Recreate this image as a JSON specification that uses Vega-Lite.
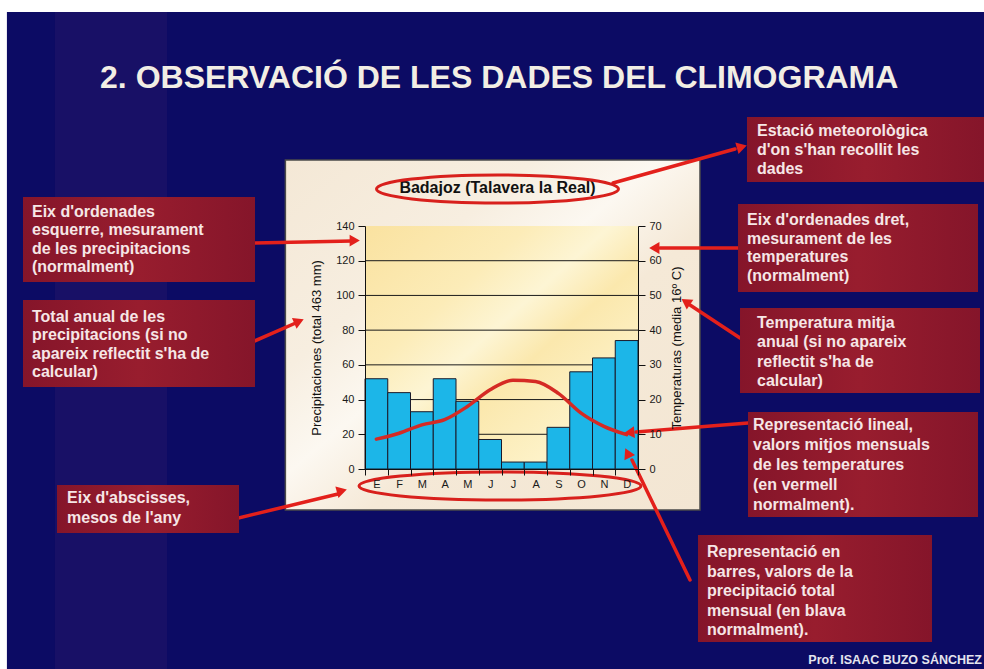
{
  "$schema": "https://vega.github.io/schema/vega-lite/v6.json",
  "width": 273,
  "height": 243,
  "autosize": {"type": "none"},
  "padding": {"left": 365, "top": 226, "right": 346, "bottom": 200},
  "background": "#0c0b64",
  "config": {
    "view": {"stroke": null},
    "font": "Liberation Sans",
    "axis": {
      "domainColor": "#111111",
      "tickColor": "#111111",
      "labelColor": "#1a1a1a",
      "labelFont": "Liberation Sans",
      "labelFontSize": 11,
      "tickSize": 7,
      "grid": false,
      "titleFont": "Liberation Sans",
      "titleFontSize": 13,
      "titleFontWeight": "normal",
      "titleColor": "#111111"
    }
  },
  "datasets": {
    "clima": [
      {"mes": "Ene", "pluja": 52, "temp": 8.6},
      {"mes": "Feb", "pluja": 44, "temp": 10.3},
      {"mes": "Mar", "pluja": 33, "temp": 12.7},
      {"mes": "Abr", "pluja": 52, "temp": 14.2},
      {"mes": "May", "pluja": 39, "temp": 18.0},
      {"mes": "Jun", "pluja": 17, "temp": 22.8},
      {"mes": "Jul", "pluja": 4, "temp": 25.6},
      {"mes": "Ago", "pluja": 4, "temp": 25.2},
      {"mes": "Sep", "pluja": 24, "temp": 21.8},
      {"mes": "Oct", "pluja": 56, "temp": 16.1},
      {"mes": "Nov", "pluja": 64, "temp": 12.3},
      {"mes": "Dic", "pluja": 74, "temp": 9.9}
    ],
    "graella": [{"mm": 20}, {"mm": 40}, {"mm": 60}, {"mm": 80}, {"mm": 100}, {"mm": 120}],
    "una": [{}]
  },
  "resolve": {"scale": {"x": "independent", "y": "independent"}},
  "layer": [
    {
      "data": {"name": "una"},
      "layer": [
        {
          "mark": {"type": "rect", "color": "#ffffff"},
          "encoding": {
            "x": {"datum": -15.6, "type": "quantitative", "scale": {"domain": [0.5, 12.5], "nice": false, "zero": false}, "axis": null},
            "x2": {"datum": 28},
            "y": {"datum": 263.3, "type": "quantitative", "scale": {"domain": [0, 140], "nice": false, "zero": false}, "axis": null},
            "y2": {"datum": 272}
          }
        },
        {
          "mark": {"type": "rect", "color": "#ffffff"},
          "encoding": {
            "x": {"datum": -15.6, "type": "quantitative", "scale": {"domain": [0.5, 12.5], "nice": false, "zero": false}, "axis": null},
            "x2": {"datum": -15.24},
            "y": {"datum": -116, "type": "quantitative", "scale": {"domain": [0, 140], "nice": false, "zero": false}, "axis": null},
            "y2": {"datum": 272}
          }
        },
        {
          "mark": {"type": "rect", "color": "#2a1a6a", "opacity": 0.4},
          "encoding": {
            "x": {"datum": -13.13, "type": "quantitative", "scale": {"domain": [0.5, 12.5], "nice": false, "zero": false}, "axis": null},
            "x2": {"datum": -8.2},
            "y": {"datum": 263.3, "type": "quantitative", "scale": {"domain": [0, 140], "nice": false, "zero": false}, "axis": null},
            "y2": {"datum": -116}
          }
        },
        {
          "mark": {
            "type": "rect",
            "stroke": "#4a4a4a",
            "strokeWidth": 1.5,
            "color": {
              "gradient": "linear", "x1": 0, "y1": 0, "x2": 1, "y2": 1,
              "stops": [
                {"offset": 0, "color": "#f4e8d6"},
                {"offset": 0.3, "color": "#f7eee0"},
                {"offset": 0.45, "color": "#fcf8f1"},
                {"offset": 0.6, "color": "#f5e9d7"},
                {"offset": 1, "color": "#f3e6d3"}
              ]
            }
          },
          "encoding": {
            "x": {"datum": -3.0, "type": "quantitative", "scale": {"domain": [0.5, 12.5], "nice": false, "zero": false}, "axis": null},
            "x2": {"datum": 15.225},
            "y": {"datum": 178.02, "type": "quantitative", "scale": {"domain": [0, 140], "nice": false, "zero": false}, "axis": null},
            "y2": {"datum": -23.62}
          }
        },
        {
          "mark": {
            "type": "rect",
            "color": {
              "gradient": "linear", "x1": 0, "y1": 0, "x2": 1, "y2": 1,
              "stops": [
                {"offset": 0, "color": "#fae2a0"},
                {"offset": 0.3, "color": "#fcecb8"},
                {"offset": 0.45, "color": "#fdf5d4"},
                {"offset": 0.58, "color": "#fbe8ad"},
                {"offset": 0.8, "color": "#fdf2c8"},
                {"offset": 1, "color": "#fbe9b6"}
              ]
            }
          },
          "encoding": {
            "x": {"datum": 0.5, "type": "quantitative", "scale": {"domain": [0.5, 12.5], "nice": false, "zero": false}, "axis": null},
            "x2": {"datum": 12.5},
            "y": {"datum": 0, "type": "quantitative", "scale": {"domain": [0, 140], "nice": false, "zero": false}, "axis": null},
            "y2": {"datum": 140}
          }
        },
        {
          "data": {"name": "graella"},
          "mark": {"type": "rule", "color": "#1a1a1a", "strokeWidth": 1},
          "encoding": {
            "y": {"field": "mm", "type": "quantitative", "scale": {"domain": [0, 140], "nice": false, "zero": false}, "axis": null}
          }
        }
      ]
    },
    {
      "data": {"name": "clima"},
      "resolve": {"scale": {"y": "independent"}},
      "layer": [
        {
          "mark": {"type": "bar", "color": "#1cb6e8", "stroke": "#1a1a2a", "strokeWidth": 1},
          "encoding": {
            "x": {
              "field": "mes", "type": "ordinal", "sort": null,
              "scale": {"paddingInner": 0, "paddingOuter": 0},
              "axis": {"zindex": 1, "title": null, "labelAngle": 0, "tickBand": "extent", "labelExpr": "substring(datum.label,0,1)", "labelPadding": 3, "tickSize": 6}
            },
            "y": {
              "field": "pluja", "type": "quantitative",
              "scale": {"domain": [0, 140], "nice": false},
              "axis": {"zindex": 1, "orient": "left", "title": "Precipitaciones (total 463 mm)", "values": [0, 20, 40, 60, 80, 100, 120, 140], "labelPadding": 4, "titlePadding": 12}
            }
          }
        },
        {
          "mark": {"type": "line", "color": "#d52a24", "strokeWidth": 3.5, "interpolate": "monotone", "strokeCap": "round"},
          "encoding": {
            "x": {"field": "mes", "type": "ordinal", "sort": null},
            "y": {
              "field": "temp", "type": "quantitative",
              "scale": {"domain": [0, 70], "nice": false},
              "axis": {"zindex": 1, "orient": "right", "title": "Temperaturas (media 16º C)", "titleAngle": 270, "values": [0, 10, 20, 30, 40, 50, 60, 70], "labelPadding": 4, "titlePadding": 22}
            }
          }
        }
      ]
    },
    {
      "data": {"name": "una"},
      "layer": [
        {"mark": {"type": "text", "text": "2. OBSERVACIÓ DE LES DADES DEL CLIMOGRAMA", "align": "center", "baseline": "middle", "font": "Liberation Sans", "fontSize": 32, "fontWeight": "bold", "color": "#f2eee4"},
         "encoding": {"x": {"datum": 6.4, "type": "quantitative", "scale": {"domain": [0.5, 12.5], "nice": false, "zero": false}, "axis": null},
                      "y": {"datum": 225.27, "type": "quantitative", "scale": {"domain": [0, 140], "nice": false, "zero": false}, "axis": null}}},
        {"mark": {"type": "text", "text": "Badajoz (Talavera la Real)", "align": "center", "baseline": "middle", "font": "Liberation Sans", "fontSize": 16, "fontWeight": "bold", "color": "#111111"},
         "encoding": {"x": {"datum": 6.324, "type": "quantitative", "scale": {"domain": [0.5, 12.5], "nice": false, "zero": false}, "axis": null},
                      "y": {"datum": 161.9, "type": "quantitative", "scale": {"domain": [0, 140], "nice": false, "zero": false}, "axis": null}}},

        {"mark": {"type": "rule", "color": "#e3201b", "strokeWidth": 3.5, "strokeCap": "round"},
         "encoding": {"x": {"datum": -4.335, "type": "quantitative", "scale": {"domain": [0.5, 12.5], "nice": false, "zero": false}, "axis": null}, "x2": {"datum": -0.071},
                      "y": {"datum": 130.21, "type": "quantitative", "scale": {"domain": [0, 140], "nice": false, "zero": false}, "axis": null}, "y2": {"datum": 131.36}}},
        {"mark": {"type": "rule", "color": "#e3201b", "strokeWidth": 3.5, "strokeCap": "round"},
         "encoding": {"x": {"datum": -4.555, "type": "quantitative", "scale": {"domain": [0.5, 12.5], "nice": false, "zero": false}, "axis": null}, "x2": {"datum": -2.445},
                      "y": {"datum": 72.59, "type": "quantitative", "scale": {"domain": [0, 140], "nice": false, "zero": false}, "axis": null}, "y2": {"datum": 84.69}}},
        {"mark": {"type": "rule", "color": "#e3201b", "strokeWidth": 3.5, "strokeCap": "round"},
         "encoding": {"x": {"datum": -5.786, "type": "quantitative", "scale": {"domain": [0.5, 12.5], "nice": false, "zero": false}, "axis": null}, "x2": {"datum": -0.687},
                      "y": {"datum": -30.54, "type": "quantitative", "scale": {"domain": [0, 140], "nice": false, "zero": false}, "axis": null}, "y2": {"datum": -14.4}}},
        {"mark": {"type": "rule", "color": "#e3201b", "strokeWidth": 3.5, "strokeCap": "round"},
         "encoding": {"x": {"datum": 11.401, "type": "quantitative", "scale": {"domain": [0.5, 12.5], "nice": false, "zero": false}, "axis": null}, "x2": {"datum": 16.764},
                      "y": {"datum": 164.77, "type": "quantitative", "scale": {"domain": [0, 140], "nice": false, "zero": false}, "axis": null}, "y2": {"datum": 184.36}}},
        {"mark": {"type": "rule", "color": "#e3201b", "strokeWidth": 3.5, "strokeCap": "round"},
         "encoding": {"x": {"datum": 16.896, "type": "quantitative", "scale": {"domain": [0.5, 12.5], "nice": false, "zero": false}, "axis": null}, "x2": {"datum": 13.467},
                      "y": {"datum": 127.33, "type": "quantitative", "scale": {"domain": [0, 140], "nice": false, "zero": false}, "axis": null}, "y2": {"datum": 127.33}}},
        {"mark": {"type": "rule", "color": "#e3201b", "strokeWidth": 3.5, "strokeCap": "round"},
         "encoding": {"x": {"datum": 16.984, "type": "quantitative", "scale": {"domain": [0.5, 12.5], "nice": false, "zero": false}, "axis": null}, "x2": {"datum": 14.786},
                      "y": {"datum": 75.47, "type": "quantitative", "scale": {"domain": [0, 140], "nice": false, "zero": false}, "axis": null}, "y2": {"datum": 94.49}}},
        {"mark": {"type": "rule", "color": "#e3201b", "strokeWidth": 3.5, "strokeCap": "round"},
         "encoding": {"x": {"datum": 17.335, "type": "quantitative", "scale": {"domain": [0.5, 12.5], "nice": false, "zero": false}, "axis": null}, "x2": {"datum": 12.412},
                      "y": {"datum": 26.5, "type": "quantitative", "scale": {"domain": [0, 140], "nice": false, "zero": false}, "axis": null}, "y2": {"datum": 21.32}}},
        {"mark": {"type": "rule", "color": "#e3201b", "strokeWidth": 3.5, "strokeCap": "round"},
         "encoding": {"x": {"datum": 14.786, "type": "quantitative", "scale": {"domain": [0.5, 12.5], "nice": false, "zero": false}, "axis": null}, "x2": {"datum": 12.236},
                      "y": {"datum": -63.95, "type": "quantitative", "scale": {"domain": [0, 140], "nice": false, "zero": false}, "axis": null}, "y2": {"datum": 5.19}}},

        {"mark": {"type": "point", "shape": "triangle", "filled": true, "color": "#e3201b", "opacity": 1, "size": 140, "angle": 90},
         "encoding": {"x": {"datum": -0.027, "type": "quantitative", "scale": {"domain": [0.5, 12.5], "nice": false, "zero": false}, "axis": null},
                      "y": {"datum": 131.6, "type": "quantitative", "scale": {"domain": [0, 140], "nice": false, "zero": false}, "axis": null}}},
        {"mark": {"type": "point", "shape": "triangle", "filled": true, "color": "#e3201b", "opacity": 1, "size": 140, "angle": 67},
         "encoding": {"x": {"datum": -2.471, "type": "quantitative", "scale": {"domain": [0.5, 12.5], "nice": false, "zero": false}, "axis": null},
                      "y": {"datum": 84.69, "type": "quantitative", "scale": {"domain": [0, 140], "nice": false, "zero": false}, "axis": null}}},
        {"mark": {"type": "point", "shape": "triangle", "filled": true, "color": "#e3201b", "opacity": 1, "size": 140, "angle": 75},
         "encoding": {"x": {"datum": -0.59, "type": "quantitative", "scale": {"domain": [0.5, 12.5], "nice": false, "zero": false}, "axis": null},
                      "y": {"datum": -12.85, "type": "quantitative", "scale": {"domain": [0, 140], "nice": false, "zero": false}, "axis": null}}},
        {"mark": {"type": "point", "shape": "triangle", "filled": true, "color": "#e3201b", "opacity": 1, "size": 140, "angle": 74},
         "encoding": {"x": {"datum": 16.993, "type": "quantitative", "scale": {"domain": [0.5, 12.5], "nice": false, "zero": false}, "axis": null},
                      "y": {"datum": 185.34, "type": "quantitative", "scale": {"domain": [0, 140], "nice": false, "zero": false}, "axis": null}}},
        {"mark": {"type": "point", "shape": "triangle", "filled": true, "color": "#e3201b", "opacity": 1, "size": 140, "angle": 270},
         "encoding": {"x": {"datum": 13.291, "type": "quantitative", "scale": {"domain": [0.5, 12.5], "nice": false, "zero": false}, "axis": null},
                      "y": {"datum": 127.33, "type": "quantitative", "scale": {"domain": [0, 140], "nice": false, "zero": false}, "axis": null}}},
        {"mark": {"type": "point", "shape": "triangle", "filled": true, "color": "#e3201b", "opacity": 1, "size": 140, "angle": 304},
         "encoding": {"x": {"datum": 14.663, "type": "quantitative", "scale": {"domain": [0.5, 12.5], "nice": false, "zero": false}, "axis": null},
                      "y": {"datum": 95.75, "type": "quantitative", "scale": {"domain": [0, 140], "nice": false, "zero": false}, "axis": null}}},
        {"mark": {"type": "point", "shape": "triangle", "filled": true, "color": "#e3201b", "opacity": 1, "size": 140, "angle": 265},
         "encoding": {"x": {"datum": 12.192, "type": "quantitative", "scale": {"domain": [0.5, 12.5], "nice": false, "zero": false}, "axis": null},
                      "y": {"datum": 21.03, "type": "quantitative", "scale": {"domain": [0, 140], "nice": false, "zero": false}, "axis": null}}},
        {"mark": {"type": "point", "shape": "triangle", "filled": true, "color": "#e3201b", "opacity": 1, "size": 140, "angle": 334},
         "encoding": {"x": {"datum": 12.07, "type": "quantitative", "scale": {"domain": [0.5, 12.5], "nice": false, "zero": false}, "axis": null},
                      "y": {"datum": 8.35, "type": "quantitative", "scale": {"domain": [0, 140], "nice": false, "zero": false}, "axis": null}}},

        {"mark": {"type": "point", "filled": false, "color": "#d8201c", "opacity": 1, "strokeWidth": 3, "size": 58564,
                  "shape": "M-1,0C-1,-0.0641,-0.5523,-0.116,0,-0.116C0.5523,-0.116,1,-0.0641,1,0C1,0.0641,0.5523,0.116,0,0.116C-0.5523,0.116,-1,0.0641,-1,0Z"},
         "encoding": {"x": {"datum": 6.324, "type": "quantitative", "scale": {"domain": [0.5, 12.5], "nice": false, "zero": false}, "axis": null},
                      "y": {"datum": 161.32, "type": "quantitative", "scale": {"domain": [0, 140], "nice": false, "zero": false}, "axis": null}}},
        {"mark": {"type": "point", "filled": false, "color": "#d8201c", "opacity": 1, "strokeWidth": 3, "size": 79524,
                  "shape": "M-1,0C-1,-0.0548,-0.5523,-0.0993,0,-0.0993C0.5523,-0.0993,1,-0.0548,1,0C1,0.0548,0.5523,0.0993,0,0.0993C-0.5523,0.0993,-1,0.0548,-1,0Z"},
         "encoding": {"x": {"datum": 6.434, "type": "quantitative", "scale": {"domain": [0.5, 12.5], "nice": false, "zero": false}, "axis": null},
                      "y": {"datum": -9.79, "type": "quantitative", "scale": {"domain": [0, 140], "nice": false, "zero": false}, "axis": null}}},

        {"mark": {"type": "rect", "color": {"gradient": "linear", "x1": 0, "y1": 0, "x2": 1, "y2": 0, "stops": [{"offset": 0, "color": "#85152a"}, {"offset": 0.5, "color": "#981d2e"}, {"offset": 1, "color": "#85152a"}]}},
         "encoding": {"x": {"datum": -14.533, "type": "quantitative", "scale": {"domain": [0.5, 12.5], "nice": false, "zero": false}, "axis": null}, "x2": {"datum": -4.335},
                      "y": {"datum": 156.71, "type": "quantitative", "scale": {"domain": [0, 140], "nice": false, "zero": false}, "axis": null}, "y2": {"datum": 107.74}}},
        {"mark": {"type": "rect", "color": {"gradient": "linear", "x1": 0, "y1": 0, "x2": 1, "y2": 0, "stops": [{"offset": 0, "color": "#85152a"}, {"offset": 0.5, "color": "#981d2e"}, {"offset": 1, "color": "#85152a"}]}},
         "encoding": {"x": {"datum": -14.533, "type": "quantitative", "scale": {"domain": [0.5, 12.5], "nice": false, "zero": false}, "axis": null}, "x2": {"datum": -4.335},
                      "y": {"datum": 97.37, "type": "quantitative", "scale": {"domain": [0, 140], "nice": false, "zero": false}, "axis": null}, "y2": {"datum": 47.24}}},
        {"mark": {"type": "rect", "color": {"gradient": "linear", "x1": 0, "y1": 0, "x2": 1, "y2": 0, "stops": [{"offset": 0, "color": "#85152a"}, {"offset": 0.5, "color": "#981d2e"}, {"offset": 1, "color": "#85152a"}]}},
         "encoding": {"x": {"datum": -13.038, "type": "quantitative", "scale": {"domain": [0.5, 12.5], "nice": false, "zero": false}, "axis": null}, "x2": {"datum": -5.038},
                      "y": {"datum": -9.22, "type": "quantitative", "scale": {"domain": [0, 140], "nice": false, "zero": false}, "axis": null}, "y2": {"datum": -36.87}}},
        {"mark": {"type": "rect", "color": {"gradient": "linear", "x1": 0, "y1": 0, "x2": 1, "y2": 0, "stops": [{"offset": 0, "color": "#85152a"}, {"offset": 0.5, "color": "#981d2e"}, {"offset": 1, "color": "#85152a"}]}},
         "encoding": {"x": {"datum": 17.291, "type": "quantitative", "scale": {"domain": [0.5, 12.5], "nice": false, "zero": false}, "axis": null}, "x2": {"datum": 27.709},
                      "y": {"datum": 202.8, "type": "quantitative", "scale": {"domain": [0, 140], "nice": false, "zero": false}, "axis": null}, "y2": {"datum": 165.35}}},
        {"mark": {"type": "rect", "color": {"gradient": "linear", "x1": 0, "y1": 0, "x2": 1, "y2": 0, "stops": [{"offset": 0, "color": "#85152a"}, {"offset": 0.5, "color": "#981d2e"}, {"offset": 1, "color": "#85152a"}]}},
         "encoding": {"x": {"datum": 16.896, "type": "quantitative", "scale": {"domain": [0.5, 12.5], "nice": false, "zero": false}, "axis": null}, "x2": {"datum": 27.445},
                      "y": {"datum": 152.67, "type": "quantitative", "scale": {"domain": [0, 140], "nice": false, "zero": false}, "axis": null}, "y2": {"datum": 101.98}}},
        {"mark": {"type": "rect", "color": {"gradient": "linear", "x1": 0, "y1": 0, "x2": 1, "y2": 0, "stops": [{"offset": 0, "color": "#85152a"}, {"offset": 0.5, "color": "#981d2e"}, {"offset": 1, "color": "#85152a"}]}},
         "encoding": {"x": {"datum": 16.984, "type": "quantitative", "scale": {"domain": [0.5, 12.5], "nice": false, "zero": false}, "axis": null}, "x2": {"datum": 27.533},
                      "y": {"datum": 92.76, "type": "quantitative", "scale": {"domain": [0, 140], "nice": false, "zero": false}, "axis": null}, "y2": {"datum": 43.79}}},
        {"mark": {"type": "rect", "color": {"gradient": "linear", "x1": 0, "y1": 0, "x2": 1, "y2": 0, "stops": [{"offset": 0, "color": "#85152a"}, {"offset": 0.5, "color": "#981d2e"}, {"offset": 1, "color": "#85152a"}]}},
         "encoding": {"x": {"datum": 17.335, "type": "quantitative", "scale": {"domain": [0.5, 12.5], "nice": false, "zero": false}, "axis": null}, "x2": {"datum": 27.445},
                      "y": {"datum": 32.84, "type": "quantitative", "scale": {"domain": [0, 140], "nice": false, "zero": false}, "axis": null}, "y2": {"datum": -27.65}}},
        {"mark": {"type": "rect", "color": {"gradient": "linear", "x1": 0, "y1": 0, "x2": 1, "y2": 0, "stops": [{"offset": 0, "color": "#85152a"}, {"offset": 0.5, "color": "#981d2e"}, {"offset": 1, "color": "#85152a"}]}},
         "encoding": {"x": {"datum": 15.137, "type": "quantitative", "scale": {"domain": [0.5, 12.5], "nice": false, "zero": false}, "axis": null}, "x2": {"datum": 25.423},
                      "y": {"datum": -38.03, "type": "quantitative", "scale": {"domain": [0, 140], "nice": false, "zero": false}, "axis": null}, "y2": {"datum": -99.67}}},

        {"mark": {"type": "text", "text": ["Eix d'ordenades", "esquerre, mesurament", "de les precipitacions", "(normalment)"], "align": "left", "baseline": "top", "dx": 9, "dy": 7, "font": "Liberation Sans", "fontSize": 16, "fontWeight": "bold", "lineHeight": 18.5, "color": "#f6e6e6"},
         "encoding": {"x": {"datum": -14.533, "type": "quantitative", "scale": {"domain": [0.5, 12.5], "nice": false, "zero": false}, "axis": null},
                      "y": {"datum": 156.71, "type": "quantitative", "scale": {"domain": [0, 140], "nice": false, "zero": false}, "axis": null}}},
        {"mark": {"type": "text", "text": ["Total anual de les", "precipitacions (si no", "apareix reflectit s'ha de", "calcular)"], "align": "left", "baseline": "top", "dx": 9, "dy": 9, "font": "Liberation Sans", "fontSize": 16, "fontWeight": "bold", "lineHeight": 18.5, "color": "#f6e6e6"},
         "encoding": {"x": {"datum": -14.533, "type": "quantitative", "scale": {"domain": [0.5, 12.5], "nice": false, "zero": false}, "axis": null},
                      "y": {"datum": 97.37, "type": "quantitative", "scale": {"domain": [0, 140], "nice": false, "zero": false}, "axis": null}}},
        {"mark": {"type": "text", "text": ["Eix d'abscisses,", "mesos de l'any"], "align": "left", "baseline": "top", "dx": 10, "dy": 5, "font": "Liberation Sans", "fontSize": 16, "fontWeight": "bold", "lineHeight": 20, "color": "#f6e6e6"},
         "encoding": {"x": {"datum": -13.038, "type": "quantitative", "scale": {"domain": [0.5, 12.5], "nice": false, "zero": false}, "axis": null},
                      "y": {"datum": -9.22, "type": "quantitative", "scale": {"domain": [0, 140], "nice": false, "zero": false}, "axis": null}}},
        {"mark": {"type": "text", "text": ["Estació meteorològica", "d'on s'han recollit les", "dades"], "align": "left", "baseline": "top", "dx": 10, "dy": 6, "font": "Liberation Sans", "fontSize": 16, "fontWeight": "bold", "lineHeight": 19, "color": "#f6e6e6"},
         "encoding": {"x": {"datum": 17.291, "type": "quantitative", "scale": {"domain": [0.5, 12.5], "nice": false, "zero": false}, "axis": null},
                      "y": {"datum": 202.8, "type": "quantitative", "scale": {"domain": [0, 140], "nice": false, "zero": false}, "axis": null}}},
        {"mark": {"type": "text", "text": ["Eix d'ordenades dret,", "mesurament de les", "temperatures", "(normalment)"], "align": "left", "baseline": "top", "dx": 9, "dy": 8, "font": "Liberation Sans", "fontSize": 16, "fontWeight": "bold", "lineHeight": 18.7, "color": "#f6e6e6"},
         "encoding": {"x": {"datum": 16.896, "type": "quantitative", "scale": {"domain": [0.5, 12.5], "nice": false, "zero": false}, "axis": null},
                      "y": {"datum": 152.67, "type": "quantitative", "scale": {"domain": [0, 140], "nice": false, "zero": false}, "axis": null}}},
        {"mark": {"type": "text", "text": ["Temperatura mitja", "anual (si no apareix", "reflectit s'ha de", "calcular)"], "align": "left", "baseline": "top", "dx": 17, "dy": 7, "font": "Liberation Sans", "fontSize": 16, "fontWeight": "bold", "lineHeight": 19.5, "color": "#f6e6e6"},
         "encoding": {"x": {"datum": 16.984, "type": "quantitative", "scale": {"domain": [0.5, 12.5], "nice": false, "zero": false}, "axis": null},
                      "y": {"datum": 92.76, "type": "quantitative", "scale": {"domain": [0, 140], "nice": false, "zero": false}, "axis": null}}},
        {"mark": {"type": "text", "text": ["Representació lineal,", "valors mitjos mensuals", "de les temperatures", "(en vermell", "normalment)."], "align": "left", "baseline": "top", "dx": 5, "dy": 5, "font": "Liberation Sans", "fontSize": 16, "fontWeight": "bold", "lineHeight": 20, "color": "#f6e6e6"},
         "encoding": {"x": {"datum": 17.335, "type": "quantitative", "scale": {"domain": [0.5, 12.5], "nice": false, "zero": false}, "axis": null},
                      "y": {"datum": 32.84, "type": "quantitative", "scale": {"domain": [0, 140], "nice": false, "zero": false}, "axis": null}}},
        {"mark": {"type": "text", "text": ["Representació en", "barres, valors de la", "precipitació total", "mensual (en blava", "normalment)."], "align": "left", "baseline": "top", "dx": 9, "dy": 9, "font": "Liberation Sans", "fontSize": 16, "fontWeight": "bold", "lineHeight": 19.5, "color": "#f6e6e6"},
         "encoding": {"x": {"datum": 15.137, "type": "quantitative", "scale": {"domain": [0.5, 12.5], "nice": false, "zero": false}, "axis": null},
                      "y": {"datum": -38.03, "type": "quantitative", "scale": {"domain": [0, 140], "nice": false, "zero": false}, "axis": null}}},
        {"mark": {"type": "text", "text": "Prof. ISAAC BUZO SÁNCHEZ", "align": "right", "baseline": "middle", "font": "Liberation Sans", "fontSize": 12.5, "fontWeight": "bold", "color": "#e4e4ee"},
         "encoding": {"x": {"datum": 27.62, "type": "quantitative", "scale": {"domain": [0.5, 12.5], "nice": false, "zero": false}, "axis": null},
                      "y": {"datum": -110.04, "type": "quantitative", "scale": {"domain": [0, 140], "nice": false, "zero": false}, "axis": null}}}
      ]
    }
  ]
}
